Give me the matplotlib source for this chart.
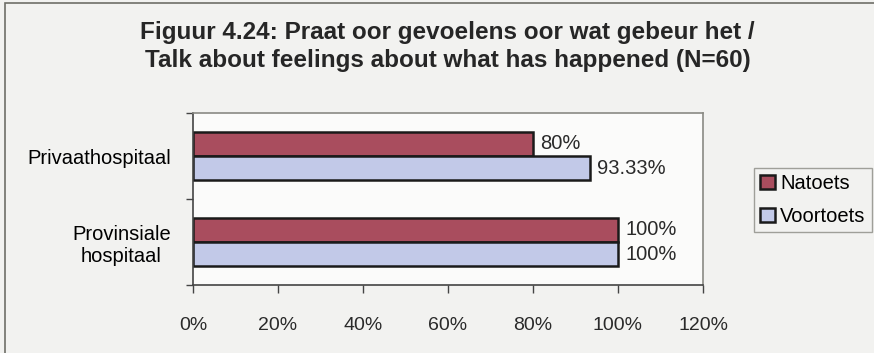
import numpy as np
from matplotlib import pyplot as plt
from matplotlib.patches import Rectangle
import matplotlib.ticker as ticker

categories = ['Provinsiale\nhospitaal', 'Privaathospitaal']
natoets = [100, 80]
voortoets = [100, 93.33]
label_natoets = ['100%', '80%']
label_voortoets = ['100%', '93.33%']
xticks = [0, 20, 40, 60, 80, 100, 120]

plt.rcParams['font.family'] = ['Liberation Sans', 'DejaVu Sans']

bg = '#f2f2f0'
red = '#a94d5e'
blue = '#c2c9e8'
txt_col = '#2a2a2a'

fig = plt.figure(figsize=(8.74, 3.53), dpi=100, facecolor=bg)
ax = fig.add_axes([193 / 874, 68 / 353, 510 / 874, 172 / 353])
ax.set_facecolor('#fbfbfa')

y = np.arange(len(categories))
h = 0.28
b1 = ax.barh(y + h / 2, natoets, height=h, color=red, edgecolor='#1a1a1a', linewidth=1.8, label='Natoets')
b2 = ax.barh(y - h / 2, voortoets, height=h, color=blue, edgecolor='#1a1a1a', linewidth=1.8, label='Voortoets')

for bars, labels in [(b1, label_natoets), (b2, label_voortoets)]:
    for bar, txt in zip(bars, labels):
        ax.text(bar.get_width() + 1.7, bar.get_y() + bar.get_height() / 2, txt,
                va='center', ha='left', fontsize=14.5, color=txt_col)

ax.set_xlim(0, 120)
ax.set_ylim(-0.5, 1.5)
ax.set_xticks(xticks)
ax.xaxis.set_major_formatter(ticker.FuncFormatter(lambda v, _: '{:g}%'.format(v)))
ax.set_yticks([-0.5, 0.5, 1.5])
ax.set_yticklabels([])
ax.set_yticks(y, minor=True)
ax.set_yticklabels(categories, minor=True, fontsize=14.5, ha='right', multialignment='center')
ax.tick_params(axis='y', which='minor', length=0, pad=16)
ax.tick_params(axis='y', which='major', length=5, width=1, color='#444444')
ax.tick_params(axis='x', length=6, width=1, color='#444444', pad=17, labelsize=14, labelcolor=txt_col)
ax.tick_params(axis='y', labelcolor=txt_col)

for side in ['left', 'bottom']:
    ax.spines[side].set_color('#444444')
    ax.spines[side].set_linewidth(1.2)
for side in ['top', 'right']:
    ax.spines[side].set_color('#8a8a84')
    ax.spines[side].set_linewidth(1.2)

fig.suptitle('Figuur 4.24: Praat oor gevoelens oor wat gebeur het /\nTalk about feelings about what has happened (N=60)',
             x=0.512, y=0.94, fontsize=17.5, fontweight='bold', color='#262626', linespacing=1.25)

leg = ax.legend(loc='center left', bbox_to_anchor=(754 / 874, 1 - 200 / 353), bbox_transform=fig.transFigure,
                fontsize=14.5, frameon=True, fancybox=False, edgecolor='#8a8a84', facecolor=bg,
                handlelength=0.75, handleheight=0.75, handletextpad=0.25, borderpad=0.3, labelspacing=0.7,
                borderaxespad=0)
leg.get_frame().set_linewidth(1)

# outer chart border
fig.patches.append(Rectangle((5 / 874, -0.1), 1.2, (350 / 353) + 0.1, transform=fig.transFigure,
                             fill=False, edgecolor='#6e6e68', linewidth=1.2))

plt.savefig('out.png', dpi=100, facecolor=bg)
